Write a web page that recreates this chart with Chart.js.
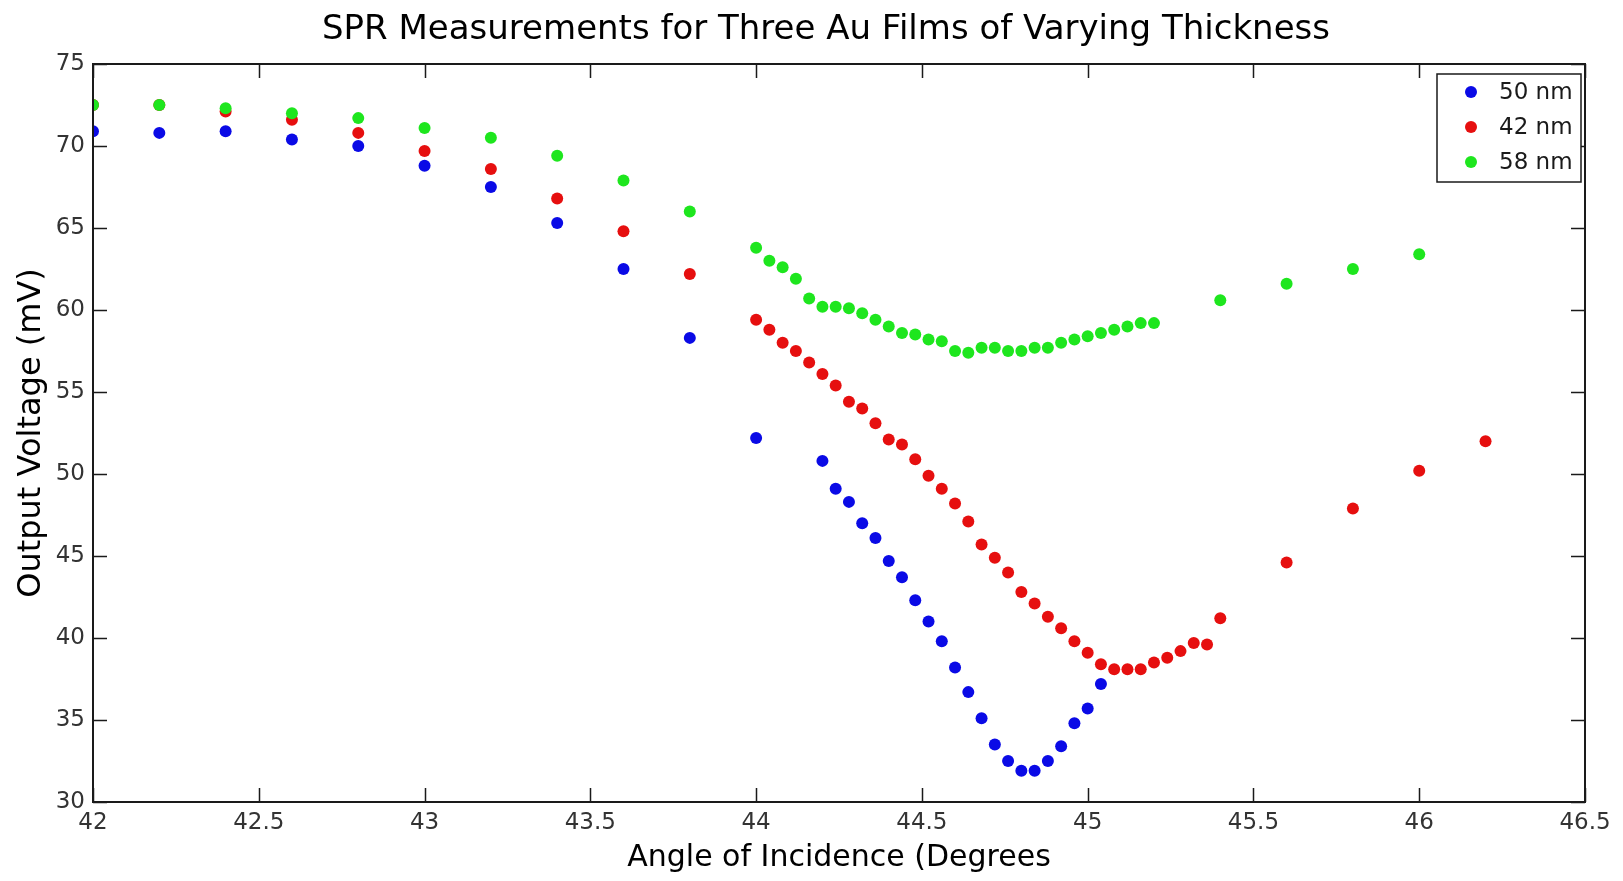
<!DOCTYPE html>
<html>
<head>
<meta charset="utf-8">
<script src="https://cdn.jsdelivr.net/npm/chart.js@4"></script>
<style>
  html, body { margin: 0; padding: 0; background: #fff; }
  #wrap { width: 1623px; height: 881px; }
</style>
</head>
<body>
<div id="wrap"><canvas id="myChart" width="1623" height="881"></canvas></div>
<script>
// Datos
const chartTitle = 'SPR Measurements for Three Au Films of Varying Thickness';
const xTitle = 'Angle of Incidence (Degrees';
const yTitle = 'Output Voltage (mV)';
const seriesLabels = ['50 nm', '42 nm', '58 nm'];
const seriesColors = ['#0a0ae6', '#e60f0f', '#1ee61e'];

const blueAngle = [42, 42.2, 42.4, 42.6, 42.8, 43, 43.2, 43.4, 43.6, 43.8, 44,
  44.2, 44.24, 44.28, 44.32, 44.36, 44.4, 44.44, 44.48, 44.52, 44.56, 44.6,
  44.64, 44.68, 44.72, 44.76, 44.8, 44.84, 44.88, 44.92, 44.96, 45, 45.04];
const blueVoltage = [70.9, 70.8, 70.9, 70.4, 70.0, 68.8, 67.5, 65.3, 62.5, 58.3, 52.2,
  50.8, 49.1, 48.3, 47.0, 46.1, 44.7, 43.7, 42.3, 41.0, 39.8, 38.2,
  36.7, 35.1, 33.5, 32.5, 31.9, 31.9, 32.5, 33.4, 34.8, 35.7, 37.2];

const redAngle = [42, 42.2, 42.4, 42.6, 42.8, 43, 43.2, 43.4, 43.6, 43.8,
  44, 44.04, 44.08, 44.12, 44.16, 44.2, 44.24, 44.28, 44.32, 44.36, 44.4, 44.44,
  44.48, 44.52, 44.56, 44.6, 44.64, 44.68, 44.72, 44.76, 44.8, 44.84, 44.88, 44.92,
  44.96, 45, 45.04, 45.08, 45.12, 45.16, 45.2, 45.24, 45.28, 45.32, 45.36, 45.4,
  45.6, 45.8, 46, 46.2];
const redVoltage = [72.5, 72.5, 72.1, 71.6, 70.8, 69.7, 68.6, 66.8, 64.8, 62.2,
  59.4, 58.8, 58.0, 57.5, 56.8, 56.1, 55.4, 54.4, 54.0, 53.1, 52.1, 51.8,
  50.9, 49.9, 49.1, 48.2, 47.1, 45.7, 44.9, 44.0, 42.8, 42.1, 41.3, 40.6,
  39.8, 39.1, 38.4, 38.1, 38.1, 38.1, 38.5, 38.8, 39.2, 39.7, 39.6, 41.2,
  44.6, 47.9, 50.2, 52.0];

const greenAngle = [42, 42.2, 42.4, 42.6, 42.8, 43, 43.2, 43.4, 43.6, 43.8,
  44, 44.04, 44.08, 44.12, 44.16, 44.2, 44.24, 44.28, 44.32, 44.36, 44.4, 44.44,
  44.48, 44.52, 44.56, 44.6, 44.64, 44.68, 44.72, 44.76, 44.8, 44.84, 44.88, 44.92,
  44.96, 45, 45.04, 45.08, 45.12, 45.16, 45.2,
  45.4, 45.6, 45.8, 46];
const greenVoltage = [72.5, 72.5, 72.3, 72.0, 71.7, 71.1, 70.5, 69.4, 67.9, 66.0,
  63.8, 63.0, 62.6, 61.9, 60.7, 60.2, 60.2, 60.1, 59.8, 59.4, 59.0, 58.6,
  58.5, 58.2, 58.1, 57.5, 57.4, 57.7, 57.7, 57.5, 57.5, 57.7, 57.7, 58.0,
  58.2, 58.4, 58.6, 58.8, 59.0, 59.2, 59.2,
  60.6, 61.6, 62.5, 63.4];

const xMin = 42, xMax = 46.5, xStep = 0.5;
const yMin = 30, yMax = 75, yStep = 5;

const FONT = "'DejaVu Sans', 'Liberation Sans', Arial, sans-serif";

function toPoints(xs, ys) {
  return xs.map((x, i) => ({ x: x, y: ys[i] }));
}

// Marco, marcas hacia dentro, título y leyenda estilo MATLAB
const matlabFrame = {
  id: 'matlabFrame',
  afterDraw(chart) {
    const ctx = chart.ctx;
    const a = chart.chartArea;
    const xs = chart.scales.x;
    const ys = chart.scales.y;
    const tick = 14;
    ctx.save();
    ctx.strokeStyle = '#1a1a1a';
    ctx.lineWidth = 1.5;
    ctx.beginPath();
    xs.ticks.forEach((t) => {
      const px = Math.round(xs.getPixelForValue(t.value)) + 0.5;
      ctx.moveTo(px, a.bottom); ctx.lineTo(px, a.bottom - tick);
      ctx.moveTo(px, a.top); ctx.lineTo(px, a.top + tick);
    });
    ys.ticks.forEach((t) => {
      const py = Math.round(ys.getPixelForValue(t.value)) + 0.5;
      ctx.moveTo(a.left, py); ctx.lineTo(a.left + tick, py);
      ctx.moveTo(a.right, py); ctx.lineTo(a.right - tick, py);
    });
    ctx.stroke();
    ctx.lineWidth = 2;
    ctx.strokeRect(a.left, a.top, a.right - a.left, a.bottom - a.top);

    // título
    ctx.fillStyle = '#000';
    ctx.font = '34px ' + FONT;
    ctx.textAlign = 'center';
    ctx.textBaseline = 'middle';
    ctx.fillText(chartTitle, 826, 30);

    // leyenda
    const box = { left: 1437, top: 74, width: 144, height: 108 };
    ctx.fillStyle = '#fff';
    ctx.fillRect(box.left, box.top, box.width, box.height);
    ctx.lineWidth = 1.5;
    ctx.strokeStyle = '#1a1a1a';
    ctx.strokeRect(box.left, box.top, box.width, box.height);
    ctx.font = '23px ' + FONT;
    ctx.textAlign = 'left';
    chart.data.datasets.forEach((ds, i) => {
      const cy = 92 + i * 35;
      ctx.fillStyle = ds.backgroundColor;
      ctx.beginPath();
      ctx.arc(1471, cy, 6, 0, Math.PI * 2);
      ctx.fill();
      ctx.fillStyle = '#1a1a1a';
      ctx.fillText(ds.label, 1499, cy + 1);
    });
    ctx.restore();
  }
};

const ctx = document.getElementById('myChart').getContext('2d');
const myChart = new Chart(ctx, {
  type: 'scatter',
  data: {
    datasets: [
      { label: seriesLabels[0], data: toPoints(blueAngle, blueVoltage), backgroundColor: seriesColors[0], borderColor: seriesColors[0], order: 2 },
      { label: seriesLabels[1], data: toPoints(redAngle, redVoltage), backgroundColor: seriesColors[1], borderColor: seriesColors[1], order: 1 },
      { label: seriesLabels[2], data: toPoints(greenAngle, greenVoltage), backgroundColor: seriesColors[2], borderColor: seriesColors[2], order: 0 },
    ],
  },
  options: {
    responsive: false,
    animation: false,
    layout: { padding: { top: 64, right: 38, left: 0, bottom: 0 } },
    elements: { point: { radius: 6, borderWidth: 0, hoverRadius: 6 } },
    plugins: {
      legend: { display: false },
      title: { display: false },
      tooltip: { enabled: false },
    },
    scales: {
      x: {
        type: 'linear',
        min: xMin,
        max: xMax,
        grid: { display: false, drawTicks: false },
        border: { display: false },
        ticks: {
          stepSize: xStep,
          padding: 7,
          color: '#333',
          font: { family: FONT, size: 23 },
          maxRotation: 0,
          callback: (v) => String(v),
        },
        title: {
          display: true,
          text: xTitle,
          color: '#000',
          font: { family: FONT, size: 30 },
          padding: { top: 0, bottom: 5 },
        },
        afterFit: (scale) => { scale.height = 79; },
      },
      y: {
        min: yMin,
        max: yMax,
        grid: { display: false, drawTicks: false },
        border: { display: false },
        ticks: {
          stepSize: yStep,
          padding: 8,
          color: '#333',
          font: { family: FONT, size: 23 },
        },
        title: {
          display: true,
          text: yTitle,
          color: '#000',
          font: { family: FONT, size: 32 },
          padding: { top: 12, bottom: 0 },
        },
        afterFit: (scale) => { scale.width = 93; },
      },
    },
  },
  plugins: [matlabFrame],
});
</script>
</body>
</html>
